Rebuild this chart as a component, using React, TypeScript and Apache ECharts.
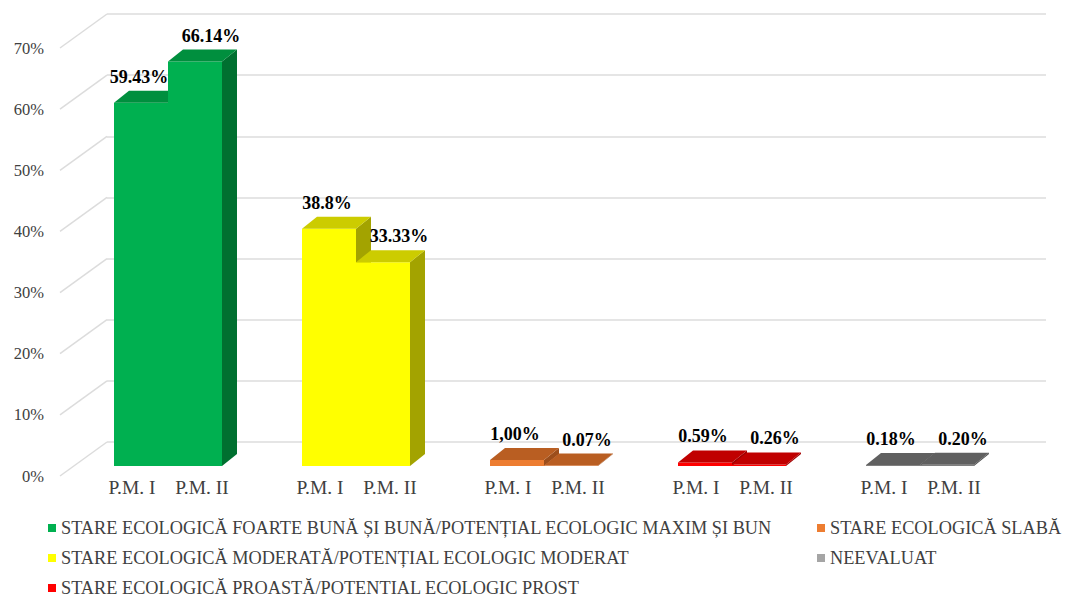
import React, { useEffect, useRef } from "react";
import * as echarts from "echarts";

const categories = [
  "STARE ECOLOGICĂ FOARTE BUNĂ ȘI BUNĂ/POTENȚIAL ECOLOGIC MAXIM ȘI BUN",
  "STARE ECOLOGICĂ MODERATĂ/POTENȚIAL ECOLOGIC MODERAT",
  "STARE ECOLOGICĂ SLABĂ",
  "STARE ECOLOGICĂ PROASTĂ/POTENTIAL ECOLOGIC PROST",
  "NEEVALUAT",
];
const periods = ["P.M. I", "P.M. II"];
const valuesPM1 = [59.43, 38.8, 1.0, 0.59, 0.18];
const valuesPM2 = [66.14, 33.33, 0.07, 0.26, 0.2];
const labelsPM1 = ["59.43%", "38.8%", "1,00%", "0.59%", "0.18%"];
const labelsPM2 = ["66.14%", "33.33%", "0.07%", "0.26%", "0.20%"];
const yTicks = [0, 10, 20, 30, 40, 50, 60, 70];

const legendColors = ["#00B050", "#FFFF00", "#ED7D31", "#FF0000", "#A5A5A5"];
const frontColors = ["#00B050", "#FFFF00", "#ED7D31", "#FF0000", "#7F7F7F"];
const topColors = ["#008F3E", "#CCCC00", "#B95E22", "#C00000", "#606060"];
const sideColors = ["#007030", "#A3A300", "#9C4E1B", "#A00000", "#4D4D4D"];

// legend placement: [left, top] per category
const legendSlots = [
  [48, 519],
  [48, 549],
  [817, 519],
  [48, 579],
  [817, 549],
];

const FONT = "Liberation Serif";
const BAR_W = 54;
const DX = 15;
const DY = 12;
const WALL_DX = 47;
const WALL_DY = 34;
const GRID_COLOR = "#DCDCDC";

export default function App() {
  const ref = useRef<HTMLDivElement>(null);
  useEffect(() => {
    if (!ref.current) return;
    const chart = echarts.init(ref.current, null, { renderer: "svg" });

    const barSeries = categories.map((name, idx) => ({
      type: "custom",
      name,
      xAxisIndex: 2,
      yAxisIndex: 2,
      z: 3,
      itemStyle: { color: legendColors[idx] },
      data: [[idx, valuesPM1[idx], valuesPM2[idx]]],
      renderItem: (params: any, api: any) => {
        const ci = api.value(0);
        const vals = [api.value(1), api.value(2)];
        const labels = [labelsPM1[idx], labelsPM2[idx]];
        const base = api.coord([ci, 0]);
        const cx = base[0];
        const yBase = base[1];
        const children: any[] = [];
        for (let i = 0; i < 2; i++) {
          const x0 = cx - BAR_W + i * BAR_W;
          const yTop = api.coord([ci, vals[i]])[1];
          const x1 = x0 + BAR_W;
          children.push({
            type: "polygon",
            shape: {
              points: [
                [x1, yTop],
                [x1 + DX, yTop - DY],
                [x1 + DX, yBase - DY],
                [x1, yBase],
              ],
            },
            style: { fill: sideColors[idx] },
          });
          children.push({
            type: "rect",
            shape: { x: x0, y: yTop, width: BAR_W, height: yBase - yTop },
            style: { fill: frontColors[idx] },
          });
          children.push({
            type: "polygon",
            shape: {
              points: [
                [x0, yTop],
                [x0 + DX, yTop - DY],
                [x1 + DX, yTop - DY],
                [x1, yTop],
              ],
            },
            style: { fill: topColors[idx] },
          });
        }
        for (let i = 0; i < 2; i++) {
          const x0 = cx - BAR_W + i * BAR_W;
          const yTop = api.coord([ci, vals[i]])[1];
          children.push({
            type: "text",
            z2: 10,
            style: {
              text: labels[i],
              x: x0 + BAR_W / 2 + (i === 0 ? -2 : 16),
              y: yTop - DY - 14,
              align: "center",
              verticalAlign: "middle",
              fontSize: 18,
              fontWeight: "bold",
              fontFamily: FONT,
              fill: "#000000",
            },
          });
          children.push({
            type: "text",
            style: {
              text: periods[i],
              x: x0 + BAR_W / 2 + (i === 0 ? -9 : 7),
              y: yBase + 21,
              align: "center",
              verticalAlign: "middle",
              fontSize: 19.5,
              fontFamily: FONT,
              fill: "#404040",
            },
          });
        }
        return { type: "group", children };
      },
    }));

    const legendText = {
      fontSize: 18.3,
      fontFamily: FONT,
      color: "#404040",
      lineHeight: 16,
    };

    chart.setOption({
      animation: false,
      backgroundColor: "#ffffff",
      textStyle: { fontFamily: FONT },
      grid: [
        { left: 107, right: 19, top: 14, bottom: 155 },
        { left: 60, right: 66, top: 48, bottom: 121 },
        { left: 74, right: 51, top: 38, bottom: 131 },
      ],
      xAxis: [
        { type: "value", gridIndex: 0, min: 0, max: 1, show: false },
        { type: "value", gridIndex: 1, min: 0, max: 1, show: false },
        { type: "category", gridIndex: 2, data: categories, show: false },
      ],
      yAxis: [
        {
          type: "value",
          gridIndex: 0,
          min: 0,
          max: 70,
          interval: 10,
          axisLabel: { show: false },
          axisLine: { show: false },
          axisTick: { show: false },
          splitLine: { show: true, lineStyle: { color: GRID_COLOR, width: 1.5 } },
        },
        {
          type: "value",
          gridIndex: 1,
          min: 0,
          max: 70,
          interval: 10,
          axisLabel: {
            formatter: "{value}%",
            margin: 16,
            fontSize: 16.5,
            fontFamily: FONT,
            color: "#404040",
          },
          axisLine: { show: false },
          axisTick: { show: false },
          splitLine: { show: false },
        },
        { type: "value", gridIndex: 2, min: 0, max: 70, interval: 10, show: false },
      ],
      legend: categories.map((name, i) => ({
        left: legendSlots[i][0],
        top: legendSlots[i][1],
        padding: 0,
        orient: "horizontal",
        icon: "rect",
        itemWidth: 8,
        itemHeight: 8,
        textStyle: legendText,
        data: [{ name, itemStyle: { color: legendColors[i] } }],
      })),
      series: [
        {
          type: "custom",
          name: "floor",
          xAxisIndex: 0,
          yAxisIndex: 0,
          z: 1,
          silent: true,
          data: yTicks.map((v) => [0, v]),
          renderItem: (params: any, api: any) => {
            const p = api.coord([0, api.value(1)]);
            return {
              type: "line",
              shape: { x1: p[0], y1: p[1], x2: p[0] - WALL_DX, y2: p[1] + WALL_DY },
              style: { stroke: GRID_COLOR, lineWidth: 1.5 },
            };
          },
        },
        ...barSeries,
      ],
    });
    return () => chart.dispose();
  }, []);

  return (
    <div
      ref={ref}
      style={{ position: "fixed", left: 0, top: 0, width: 1065, height: 597, background: "#fff" }}
    />
  );
}
